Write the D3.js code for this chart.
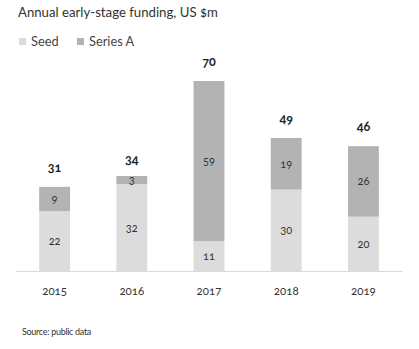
<!DOCTYPE html>
<html>
<head>
<meta charset="utf-8">
<script src="https://cdn.jsdelivr.net/npm/d3@7"></script>
<style>
  body { margin: 0; background: #fff; }
  svg text { font-family: Lato, "Open Sans", sans-serif; font-variant-numeric: oldstyle-nums; font-feature-settings: "onum"; }
</style>
</head>
<body>
<div id="chart"></div>
<script>
const years = ["2015", "2016", "2017", "2018", "2019"];
const seed = [22, 32, 11, 30, 20];
const seriesA = [9, 3, 59, 19, 26];
const totals = [31, 34, 70, 49, 46];
const seriesNames = ["Seed", "Series A"];
const colors = ["#dcdcdc", "#b3b3b3"];

const width = 419, height = 349;
const svg = d3.select("#chart").append("svg")
    .attr("width", width)
    .attr("height", height);

// titre + légende
svg.append("text")
    .attr("x", 18).attr("y", 17)
    .attr("font-size", 13.2)
    .attr("fill", "#333")
    .text("Annual early-stage funding, US $m");

const legend = svg.append("g").attr("transform", "translate(19,38)");
const legX = [0, 58];
seriesNames.forEach((name, i) => {
    legend.append("rect")
        .attr("x", legX[i]).attr("y", 0)
        .attr("width", 7).attr("height", 7)
        .attr("fill", colors[i]);
    legend.append("text")
        .attr("x", legX[i] + 12).attr("y", 7.5)
        .attr("font-size", 12.8)
        .attr("fill", "#444")
        .text(name);
});

// échelles
const baseline = 271;
const x = d3.scaleBand().domain(years).range([16, 402]).paddingInner(0.6).paddingOuter(0.3);
const y = d3.scaleLinear().domain([0, 70]).range([baseline, 81]);

const data = years.map((yr, i) => ({ year: yr, seed: seed[i], seriesA: seriesA[i], total: totals[i] }));
const stacked = d3.stack().keys(["seed", "seriesA"])(data);

const layers = svg.selectAll(".layer")
    .data(stacked)
    .join("g")
    .attr("class", "layer")
    .attr("fill", (d, i) => colors[i]);

layers.selectAll("rect")
    .data(d => d)
    .join("rect")
    .attr("x", d => x(d.data.year))
    .attr("y", d => y(d[1]))
    .attr("width", x.bandwidth())
    .attr("height", d => y(d[0]) - y(d[1]));

// valeurs dans les segments
layers.selectAll(".val")
    .data(d => d)
    .join("text")
    .attr("class", "val")
    .attr("x", d => x(d.data.year) + x.bandwidth() / 2)
    .attr("y", d => (y(d[0]) + y(d[1])) / 2 + 4)
    .attr("text-anchor", "middle")
    .attr("font-size", 11)
    .attr("fill", "#333")
    .text(d => d[1] - d[0]);

// totaux
svg.selectAll(".total")
    .data(data)
    .join("text")
    .attr("class", "total")
    .attr("x", d => x(d.year) + x.bandwidth() / 2)
    .attr("y", d => y(d.total) - 15)
    .attr("text-anchor", "middle")
    .attr("font-size", 12.5)
    .attr("font-weight", "bold")
    .attr("fill", "#222")
    .text(d => d.total);

// axe
const axis = svg.append("g")
    .attr("transform", `translate(0,${baseline})`)
    .call(d3.axisBottom(x).tickSize(0).tickPadding(16));
axis.select(".domain").attr("stroke", "#d9d9d9");
axis.selectAll("text").attr("font-size", 11.5).attr("fill", "#333");

svg.append("text")
    .attr("x", 22).attr("y", 335)
    .attr("font-size", 9)
    .attr("fill", "#333")
    .attr("letter-spacing", -0.3)
    .text("Source: public data");
</script>
</body>
</html>
